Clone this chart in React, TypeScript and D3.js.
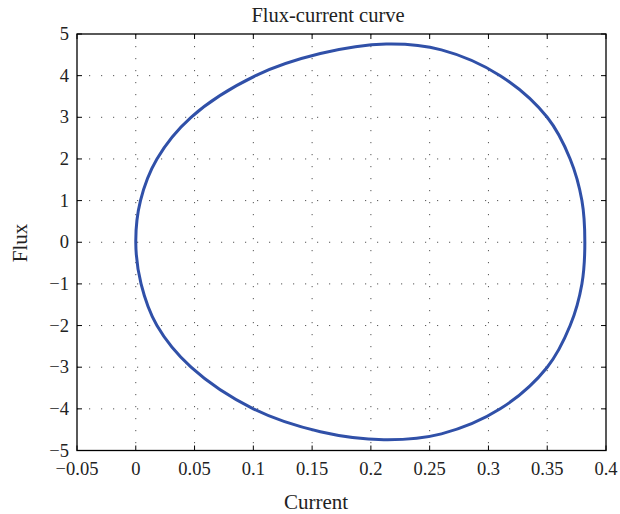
import React from "react";
import * as d3 from "d3";

const xTicks = [-0.05, 0, 0.05, 0.1, 0.15, 0.2, 0.25, 0.3, 0.35, 0.4];
const yTicks = [-5, -4, -3, -2, -1, 0, 1, 2, 3, 4, 5];

// Closed flux-current loop (current, flux)
const current = [
  0.0, 0.004, 0.018, 0.047, 0.102, 0.157, 0.213, 0.26, 0.31, 0.35, 0.3695, 0.3795, 0.382,
  0.3795, 0.3695, 0.35, 0.31, 0.26, 0.211, 0.157, 0.1, 0.047, 0.018, 0.0045,
];
const flux = [
  0.0, 1, 2, 3, 4, 4.53, 4.76, 4.62, 4.0, 3, 2, 1, 0,
  -1, -2, -3, -4, -4.6, -4.74, -4.55, -4, -3, -2, -1,
];

const W = 620;
const H = 514;
const L = 77, R = 606, T = 34, B = 450.5;

const fmt = (v: number) => {
  const s = String(v);
  return v < 0 ? "\u2212" + s.slice(1) : s;
};

export default function App() {
  const x = d3.scaleLinear().domain([-0.05, 0.4]).range([L, R]);
  const y = d3.scaleLinear().domain([-5, 5]).range([B, T]);
  const pts: [number, number][] = current.map((c, i) => [c, flux[i]]);
  const line = d3
    .line<[number, number]>()
    .x((d) => x(d[0]))
    .y((d) => y(d[1]))
    .curve(d3.curveCatmullRomClosed.alpha(0.5));
  const font = "'Liberation Serif', 'DejaVu Serif', serif";
  const tickLen = 5;
  return (
    <svg
      width={W}
      height={H}
      style={{ position: "absolute", left: 0, top: 0, background: "#fff" }}
      fontFamily={font}
    >
      <rect x={0} y={0} width={W} height={H} fill="#fff" />
      {/* grid */}
      {xTicks.slice(1, -1).map((t) => (
        <line
          key={"gx" + t}
          x1={x(t)}
          x2={x(t)}
          y1={T}
          y2={B}
          stroke="#555"
          strokeWidth={1}
          strokeDasharray="1.2 10.8"
        />
      ))}
      {yTicks.slice(1, -1).map((t) => (
        <line
          key={"gy" + t}
          x1={L}
          x2={R}
          y1={y(t)}
          y2={y(t)}
          stroke="#555"
          strokeWidth={1}
          strokeDasharray="1.2 10.8"
        />
      ))}
      {/* ticks */}
      {xTicks.map((t) => (
        <g key={"tx" + t}>
          <line x1={x(t)} x2={x(t)} y1={B} y2={B - tickLen} stroke="#000" strokeWidth={1} />
          <line x1={x(t)} x2={x(t)} y1={T} y2={T + tickLen} stroke="#000" strokeWidth={1} />
          <text x={x(t)} y={B + 24} fontSize={18.5} textAnchor="middle" fill="#222">
            {fmt(t)}
          </text>
        </g>
      ))}
      {yTicks.map((t) => (
        <g key={"ty" + t}>
          <line x1={L} x2={L + tickLen} y1={y(t)} y2={y(t)} stroke="#000" strokeWidth={1} />
          <line x1={R} x2={R - tickLen} y1={y(t)} y2={y(t)} stroke="#000" strokeWidth={1} />
          <text x={L - 8} y={y(t) + 6} fontSize={18.5} textAnchor="end" fill="#222">
            {fmt(t)}
          </text>
        </g>
      ))}
      {/* frame */}
      <rect x={L} y={T} width={R - L} height={B - T} fill="none" stroke="#000" strokeWidth={1.3} />
      {/* curve */}
      <path d={line(pts) || ""} fill="none" stroke="#3050a8" strokeWidth={3} />
      {/* labels */}
      <text x={328} y={22} fontSize={20.5} textAnchor="middle" fill="#222">
        Flux-current curve
      </text>
      <text x={316} y={509} fontSize={21} textAnchor="middle" fill="#222">
        Current
      </text>
      <text
        transform={`translate(27, 243) rotate(-90)`}
        fontSize={21}
        textAnchor="middle"
        fill="#222"
      >
        Flux
      </text>
    </svg>
  );
}
